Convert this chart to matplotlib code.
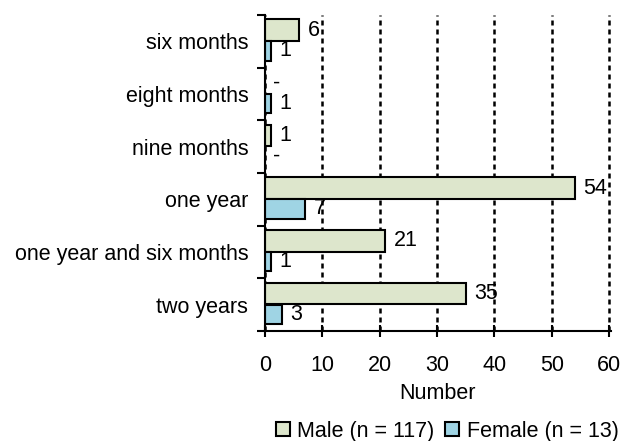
import numpy as np
import matplotlib
matplotlib.use('Agg')
import matplotlib.pyplot as plt

plt.rcParams['font.family'] = ['Liberation Sans', 'DejaVu Sans']

categories = ['six months', 'eight months', 'nine months', 'one year',
              'one year and six months', 'two years']
male = [6, 0, 1, 54, 21, 35]
female = [1, 1, 0, 7, 1, 3]
male_label = 'Male (n = 117)'
female_label = 'Female (n = 13)'

fs = 15.5
y = np.arange(len(categories))

fig = plt.figure(figsize=(6.22, 4.41), dpi=100)
ax = fig.add_axes([0.426, 0.249, 0.556, 0.717])

bm = ax.barh(y - 0.215, male, height=0.41, color='#dde6cc', edgecolor='black',
             linewidth=1.5, label=male_label, zorder=2)
bf = ax.barh(y + 0.18, female, height=0.37, color='#9fd4e4', edgecolor='black',
             linewidth=1.5, label=female_label, zorder=2)

for bars, vals in ((bm, male), (bf, female)):
    ax.bar_label(bars, labels=[str(v) if v else '-' for v in vals],
                 padding=6, fontsize=fs)

ax.set_xlim(0, 60.3)
ax.set_ylim(len(categories) - 0.5, -0.5)
ax.set_xticks(np.arange(0, 61, 10))
ax.set_yticks(np.arange(-0.5, len(categories), 1.0))
ax.set_yticklabels([])
ax.set_yticks(y, minor=True)
ax.set_yticklabels(categories, minor=True)
ax.tick_params(axis='y', which='minor', length=0, pad=12, labelsize=fs)
ax.tick_params(axis='y', which='major', length=6, width=1.5, direction='out')
ax.tick_params(axis='x', length=8, width=1.5, direction='inout', pad=13, labelsize=fs)

ax.grid(axis='x', color='black', linewidth=1.8, linestyle=(0, (2.0, 1.6)))
ax.set_axisbelow(True)
for s in ('top', 'right'):
    ax.spines[s].set_visible(False)
for s in ('left', 'bottom'):
    ax.spines[s].set_linewidth(1.5)

ax.set_xlabel('Number', fontsize=fs, labelpad=5)

fig.legend(handles=[bm, bf], loc='center', bbox_to_anchor=(0.719, 0.022), ncol=2,
           frameon=False, fontsize=fs, handlelength=0.65, handleheight=0.65,
           handletextpad=0.35, columnspacing=0.5, borderaxespad=0)

fig.savefig('out.png', dpi=100)
